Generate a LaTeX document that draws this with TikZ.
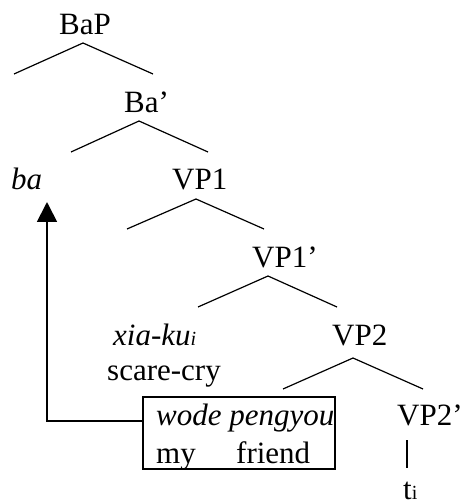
\documentclass[tikz,border=0pt]{standalone}
\usepackage{fontspec}
\setmainfont{Liberation Serif}
\usepackage{tikz}
\usetikzlibrary{arrows.meta,positioning,calc}
\newcommand{\tridx}{\raisebox{-0.5pt}{\fontsize{20}{21}\selectfont i}}
\tikzset{
	treelab/.style={anchor=base west, inner sep=0pt, font=\fontsize{31}{35}\selectfont},
	branch/.style={line width=1.2pt},
	movearr/.style={-{Triangle[width=20pt,length=20pt]}, line width=1.8pt},
	npbox/.style={draw, line width=1.8pt, minimum width=192pt, minimum height=72pt, inner sep=0pt}
}

\begin{document}
\begin{tikzpicture}[x=1pt,y=-1pt]
	\useasboundingbox (0,0) rectangle (461,502);
	% labels
	\node[treelab] (bap) at (59,35) {BaP};
	\node[treelab] (bar) at (124,113) {Ba’};
	\node[treelab] (ba) at (11,190) {\itshape ba};
	\node[treelab] (vpone) at (172,190) {VP1};
	\node[treelab] (vponebar) at (252,267) {VP1’};
	\node[treelab] (xiaku) at (113,345) {\itshape xia-ku\tridx};
	\node[treelab] (vptwo) at (332,345) {VP2};
	\node[treelab] (scare) at (107,380) {scare-cry};
	\node[npbox] (box) at (239,433) {};
	\node[treelab] (wode) at (156,425) {\itshape wode pengyou};
	\node[treelab] (my) at (156,463) {my};
	\node[treelab] (friend) at (236,463) {friend};
	\node[treelab] (vptwobar) at (397,425) {VP2’};
	\node[treelab] (trace) at (403,499) {t\tridx};
	% branch points
	\coordinate (bapT) at (83,43);   \coordinate (bapL) at (14,74);   \coordinate (bapR) at (153,74);
	\coordinate (barT) at (139,121); \coordinate (barL) at (71,152);  \coordinate (barR) at (208,152);
	\coordinate (vp1T) at (196,199); \coordinate (vp1L) at (127,229); \coordinate (vp1R) at (264,229);
	\coordinate (vpbT) at (268,276); \coordinate (vpbL) at (198,307); \coordinate (vpbR) at (337,307);
	\coordinate (vp2T) at (353,358); \coordinate (vp2L) at (283,389); \coordinate (vp2R) at (423,389);
	\coordinate (vp2bB) at (407,440); \coordinate (traceT) at (407,468);
	\coordinate (landing) at (47,202);
	\draw[branch] (bapL)--(bapT)--(bapR);
	\draw[branch] (barL)--(barT)--(barR);
	\draw[branch] (vp1L)--(vp1T)--(vp1R);
	\draw[branch] (vpbL)--(vpbT)--(vpbR);
	\draw[branch] (vp2L)--(vp2T)--(vp2R);
	\draw[branch] (vp2bB)--(traceT);
	% movement
	\draw[movearr] ([yshift=12pt]box.west) -| (landing);
\end{tikzpicture}
\end{document}
